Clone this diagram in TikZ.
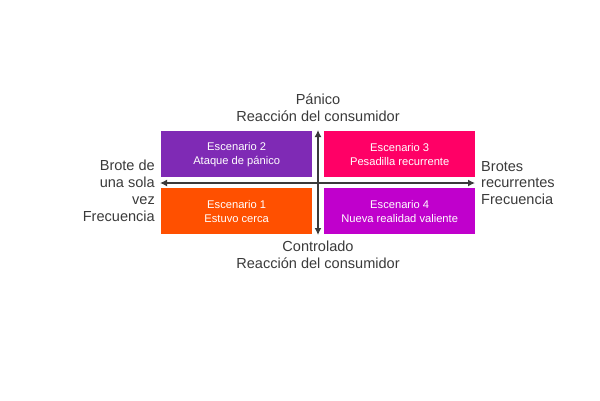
\documentclass[tikz,border=0pt]{standalone}
\usepackage{fontspec}
\setmainfont{Liberation Sans}
\usetikzlibrary{arrows.meta}
\definecolor{escmorado}{HTML}{7F2AB5}
\definecolor{escrosa}{HTML}{FF0066}
\definecolor{escnaranja}{HTML}{FF5000}
\definecolor{escmagenta}{HTML}{C000CC}
\definecolor{ejegris}{HTML}{3A3A3A}
\begin{document}
\begin{tikzpicture}[x=1bp, y=-1bp,
    escbox/.style={minimum width=151bp, minimum height=46bp, inner sep=0pt, anchor=north west,
        text=white, align=center, font=\fontsize{11.2}{14}\selectfont},
    etiqueta/.style={text=ejegris, inner sep=0pt, font=\fontsize{14.6}{17}\selectfont},
    eje/.style={ejegris, line width=1.8bp, {Latex[length=7bp,width=7bp]}-{Latex[length=7bp,width=7bp]}}]
    \useasboundingbox (0,0) rectangle (600,400);
    \node[escbox, fill=escmorado] (esc2) at (161,131) {Escenario 2\\Ataque de pánico};
    \node[escbox, fill=escrosa] (esc3) at (324,131) {Escenario 3\\Pesadilla recurrente};
    \node[escbox, fill=escnaranja] (esc1) at (161,188) {Escenario 1\\Estuvo cerca};
    \node[escbox, fill=escmagenta] (esc4) at (324,188) {Escenario 4\\Nueva realidad valiente};
    \coordinate (arriba) at (318,130);
    \coordinate (abajo) at (318,235);
    \coordinate (izq) at (160,183);
    \coordinate (der) at (475,183);
    \draw[eje] (abajo) -- (arriba);
    \draw[eje] (izq) -- (der);
    \node[etiqueta, align=center] (panico) at (318,108) {Pánico\\Reacción del consumidor};
    \node[etiqueta, align=center] (controlado) at (318,255) {Controlado\\Reacción del consumidor};
    \node[etiqueta, align=right, anchor=east] (unavez) at (155,191) {Brote de\\una sola\\vez\\Frecuencia};
    \node[etiqueta, align=left, anchor=west] (recurrentes) at (481,183) {Brotes\\recurrentes\\Frecuencia};
\end{tikzpicture}
\end{document}
